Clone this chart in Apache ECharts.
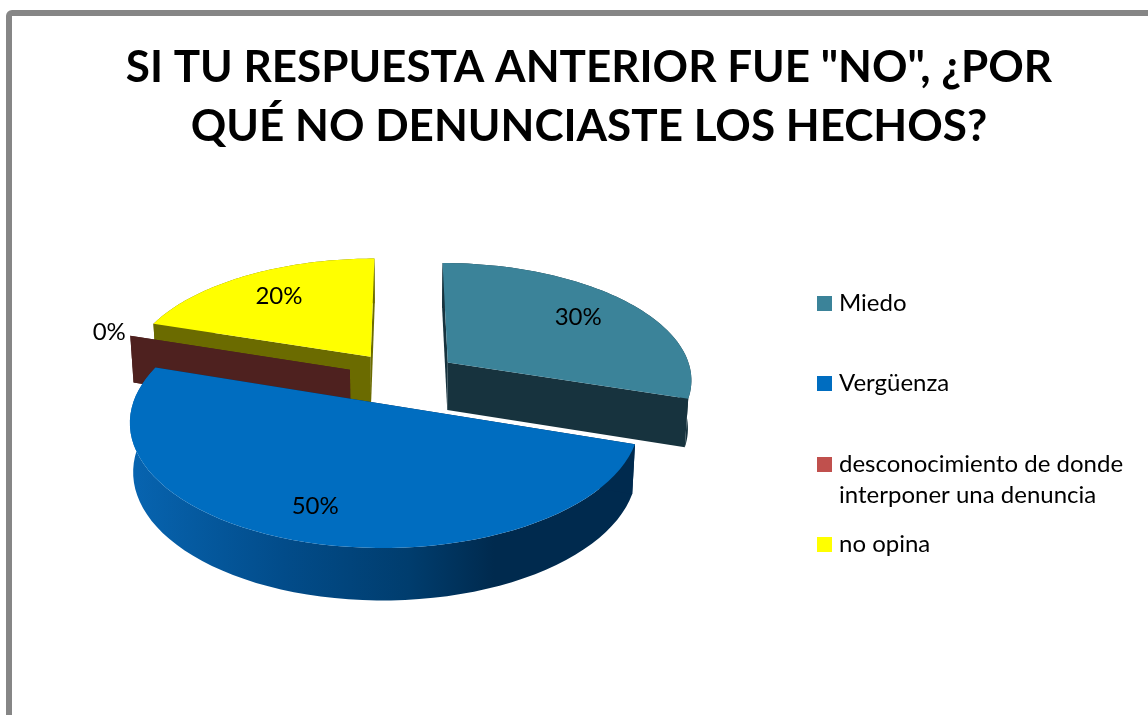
<!DOCTYPE html>
<html><head><meta charset="utf-8">
<style>html,body{margin:0;padding:0;background:#fff}#c{width:1148px;height:715px}</style>
<script src="https://cdn.jsdelivr.net/npm/echarts@6/dist/echarts.min.js"></script>
</head><body><div id="c"></div>
<script>
const titleText = 'SI TU RESPUESTA ANTERIOR FUE "NO", ¿POR\nQUÉ NO DENUNCIASTE LOS HECHOS?';
const categories = ['Miedo', 'Vergüenza', 'desconocimiento de donde interponer una denuncia', 'no opina'];
const values = [30, 50, 0, 20];
const legendLines = ['Miedo', 'Vergüenza', ' \ndesconocimiento de donde\ninterponer una denuncia', 'no opina'];
const topColors = ['#3b8399', '#006dc0', '#c0504d', '#ffff00'];
const sideColors = ['#17333e', '#002a4e', '#4e211f', '#6b6b00'];
const layerOrder = [3, 4, 2, 1];
const labelRadius = [0.72, 0.78, 1.1, 0.72];
const legendTops = [288, 368, 418, 529];

const FONT = 'Lato, Carlito, Calibri, sans-serif';
const cx = 403, cy = 378, A = 245, B = 116.7, k = 0.134, D = 48, explode = 0.23;
const total = values.reduce((a, b) => a + b, 0);

function project(u, v, z) {
  const w = 1 + k * v;
  return [cx + A * u / w * (1 - 0.012 * z), cy - B * v / w + D * z / Math.sqrt(w)];
}
function sliceAngles(i) {
  let s = 0;
  for (let j = 0; j < i; j++) s += values[j];
  return [s / total * 2 * Math.PI, (s + values[i]) / total * 2 * Math.PI];
}
function renderSlice(i) {
  const [a0, a1] = sliceAngles(i);
  const mid = (a0 + a1) / 2;
  const ou = explode * Math.sin(mid), ov = explode * Math.cos(mid);
  const rim = (a, r, z) => project(ou + r * Math.sin(a), ov + r * Math.cos(a), z);
  const topArc = [], botArc = [], n = 64;
  for (let t = 0; t <= n; t++) {
    const a = a0 + (a1 - a0) * t / n;
    topArc.push(rim(a, 1, 0));
    botArc.push(rim(a, 1, 1));
  }
  const apex = z => project(ou, ov, z);
  const wallFill = i === 1 ? {
    type: 'linear', x: 132, y: 0, x2: 635, y2: 0, global: true,
    colorStops: [
      { offset: 0, color: '#0764b0' }, { offset: 0.3, color: '#024c8a' },
      { offset: 0.55, color: '#003d6e' }, { offset: 0.72, color: '#002a4e' },
      { offset: 1, color: '#002a4e' }
    ]
  } : sideColors[i];
  const poly = (points, fill) => ({ type: 'polygon', shape: { points }, style: { fill } });
  const children = [
    poly(topArc.concat(botArc.slice().reverse()), wallFill),
    poly([apex(0), topArc[0], botArc[0], apex(1)], sideColors[i]),
    poly([apex(0), topArc[n], botArc[n], apex(1)], sideColors[i]),
    poly([apex(0)].concat(topArc), topColors[i])
  ];
  const p = rim(mid, labelRadius[i], 0);
  children.push({
    type: 'text',
    style: { text: values[i] + '%', x: p[0], y: p[1], align: 'center', verticalAlign: 'middle',
      fill: '#000', font: '24px ' + FONT }
  });
  return { type: 'group', children };
}

const chart = echarts.init(document.getElementById('c'), null, { renderer: 'canvas' });
chart.setOption({
  animation: false,
  color: topColors,
  title: {
    text: titleText, left: 584, top: 33, textAlign: 'center',
    textStyle: { fontFamily: FONT, fontWeight: 'bold', fontSize: 44, lineHeight: 59, color: '#000' }
  },
  legend: categories.map((name, i) => ({
    data: [name], left: 817, top: legendTops[i], padding: 0,
    itemWidth: 15, itemHeight: 15, icon: 'rect', selectedMode: false,
    formatter: () => legendLines[i],
    textStyle: { fontFamily: FONT, fontSize: 24, lineHeight: 31, color: '#000', padding: [0, 0, 0, 2] }
  })),
  graphic: [{
    type: 'rect', silent: true, z: -1,
    shape: { x: 9, y: 13, width: 1400, height: 900, r: 3 },
    style: { fill: '#fff', stroke: '#868686', lineWidth: 6 }
  }],
  series: categories.map((name, i) => ({
    type: 'custom', name, coordinateSystem: 'none', z: layerOrder[i],
    itemStyle: { color: topColors[i] },
    data: [[values[i]]],
    renderItem: () => renderSlice(i)
  }))
});
</script></body></html>
